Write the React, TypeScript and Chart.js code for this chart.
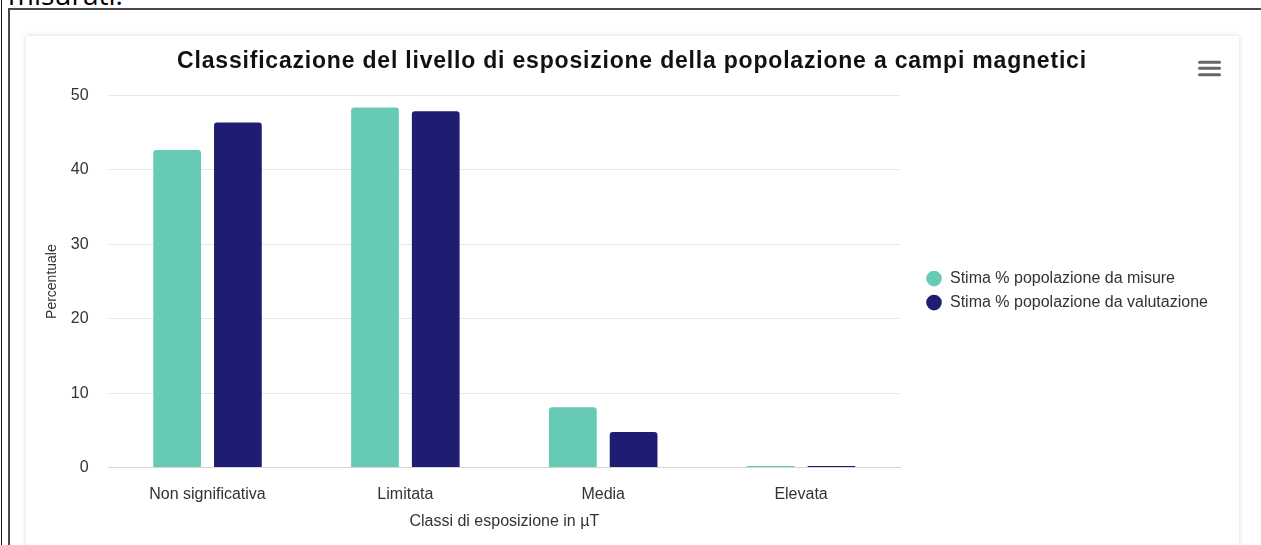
import React, { useEffect, useRef } from "react";
import { Chart, registerables } from "chart.js";

Chart.register(...registerables);

const categories = ["Non significativa", "Limitata", "Media", "Elevata"];
const seriesNames = ["Stima % popolazione da misure", "Stima % popolazione da valutazione"];
const seriesMisure = [42.7, 48.4, 8.1, 0.2];
const seriesValutazione = [46.4, 47.9, 4.8, 0.2];
const seriesColors = ["#66cab4", "#1e1d72"];
const yMin = 0;
const yMax = 50;
const yStep = 10;
const chartTitle = "Classificazione del livello di esposizione della popolazione a campi magnetici";
const xTitle = "Classi di esposizione in µT";
const yTitle = "Percentuale";
const topText = "misurati.";

const CANVAS_W = 1213;
const CANVAS_H = 510;
const LEGEND_W = 328;
const LEGEND_DX = 18;
const LEGEND_DY = 9;
const Y_TICK_PAD = 20;
const X_TICK_PAD = 9;

const FONT = "'Liberation Sans', Arial, sans-serif";

const patches = {
  id: "patches",
  beforeLayout(chart: any) {
    const lg = chart.legend;
    if (lg && !lg._patched) {
      lg._patched = true;
      const fit = lg.fit;
      lg.fit = function () {
        fit.call(this);
        this.width = LEGEND_W;
      };
      const draw = lg.draw;
      lg.draw = function () {
        this.left += LEGEND_DX;
        this.right += LEGEND_DX;
        this.top += LEGEND_DY;
        this.bottom += LEGEND_DY;
        draw.call(this);
        this.left -= LEGEND_DX;
        this.right -= LEGEND_DX;
        this.top -= LEGEND_DY;
        this.bottom -= LEGEND_DY;
      };
    }
    const tb = chart.titleBlock;
    if (tb && !tb._patched) {
      tb._patched = true;
      const tdraw = tb.draw;
      tb.draw = function () {
        const ctx: any = this.ctx;
        const prev = ctx.letterSpacing;
        ctx.letterSpacing = "0.8px";
        tdraw.call(this);
        ctx.letterSpacing = prev || "0px";
      };
    }
  },
};

function ChartCanvas() {
  const ref = useRef<HTMLCanvasElement | null>(null);
  useEffect(() => {
    if (!ref.current) return;
    const chart = new Chart(ref.current, {
      type: "bar",
      data: {
        labels: categories,
        datasets: [
          {
            label: seriesNames[0],
            data: seriesMisure,
            backgroundColor: seriesColors[0],
            borderRadius: 3,
            categoryPercentage: 0.614,
            barPercentage: 0.786,
          },
          {
            label: seriesNames[1],
            data: seriesValutazione,
            backgroundColor: seriesColors[1],
            borderRadius: 3,
            categoryPercentage: 0.614,
            barPercentage: 0.786,
          },
        ],
      },
      options: {
        responsive: false,
        animation: false,
        devicePixelRatio: 1,
        layout: { padding: { top: 0, left: 10, right: 11, bottom: 11 } },
        plugins: {
          tooltip: { enabled: false },
          title: {
            display: true,
            text: chartTitle,
            color: "#111111",
            font: { family: FONT, size: 23, weight: "bold" },
            padding: { top: 12, bottom: 20 },
          },
          legend: {
            display: true,
            position: "right",
            fullSize: false,
            labels: {
              usePointStyle: true,
              pointStyle: "circle",
              boxWidth: 16,
              boxHeight: 11,
              padding: 8,
              color: "#333333",
              font: { family: FONT, size: 16 },
            },
          },
        },
        scales: {
          x: {
            grid: { display: false },
            border: { display: true, color: "#d4d4d4" },
            ticks: { color: "#333333", padding: X_TICK_PAD, font: { family: FONT, size: 16 } },
            title: {
              display: true,
              text: xTitle,
              color: "#333333",
              font: { family: FONT, size: 16 },
              padding: { top: 8, bottom: 4 },
            },
            afterFit: (s: any) => {
              s.height = s.height - X_TICK_PAD;
            },
          },
          y: {
            min: yMin,
            max: yMax,
            grid: { color: "#e6e6e6", drawTicks: false },
            border: { display: false },
            ticks: { stepSize: yStep, color: "#333333", padding: Y_TICK_PAD, font: { family: FONT, size: 16 } },
            title: {
              display: true,
              text: yTitle,
              color: "#333333",
              font: { family: FONT, size: 14 },
              padding: { top: 8, bottom: 10 },
            },
            afterFit: (s: any) => {
              s.width = s.width - Y_TICK_PAD;
            },
          },
        },
      },
      plugins: [patches],
    });
    return () => chart.destroy();
  }, []);
  return <canvas ref={ref} width={CANVAS_W} height={CANVAS_H} style={{ display: "block", width: CANVAS_W, height: CANVAS_H }} />;
}

export default function App() {
  return (
    <div style={{ position: "fixed", left: 0, top: 0, width: 1261, height: 545, overflow: "hidden", background: "#ffffff" }}>
      <div
        style={{
          position: "absolute",
          left: 8,
          top: -21,
          fontFamily: "'Open Sans', sans-serif",
          fontSize: 28,
          lineHeight: "30px",
          color: "#000",
          whiteSpace: "nowrap",
        }}
      >
        {topText}
      </div>
      <div style={{ position: "absolute", left: 1, top: 0, width: 1, height: 545, background: "#111" }} />
      <div
        style={{
          position: "absolute",
          left: 8,
          top: 8,
          width: 1300,
          height: 600,
          borderLeft: "2px solid #4a4a4a",
          borderTop: "2px solid #4a4a4a",
        }}
      />
      <div
        style={{
          position: "absolute",
          left: 26,
          top: 36,
          width: CANVAS_W,
          height: 560,
          background: "#ffffff",
          boxShadow: "0 0 5px rgba(0,0,0,0.16)",
        }}
      >
        <ChartCanvas />
        <svg width={26} height={18} style={{ position: "absolute", left: 1171, top: 24 }}>
          <line x1={2.5} y1={2.3} x2={22.5} y2={2.3} stroke="#666" strokeWidth={3} strokeLinecap="round" />
          <line x1={2.5} y1={8.3} x2={22.5} y2={8.3} stroke="#666" strokeWidth={3} strokeLinecap="round" />
          <line x1={2.5} y1={14.7} x2={22.5} y2={14.7} stroke="#666" strokeWidth={3} strokeLinecap="round" />
        </svg>
      </div>
    </div>
  );
}
